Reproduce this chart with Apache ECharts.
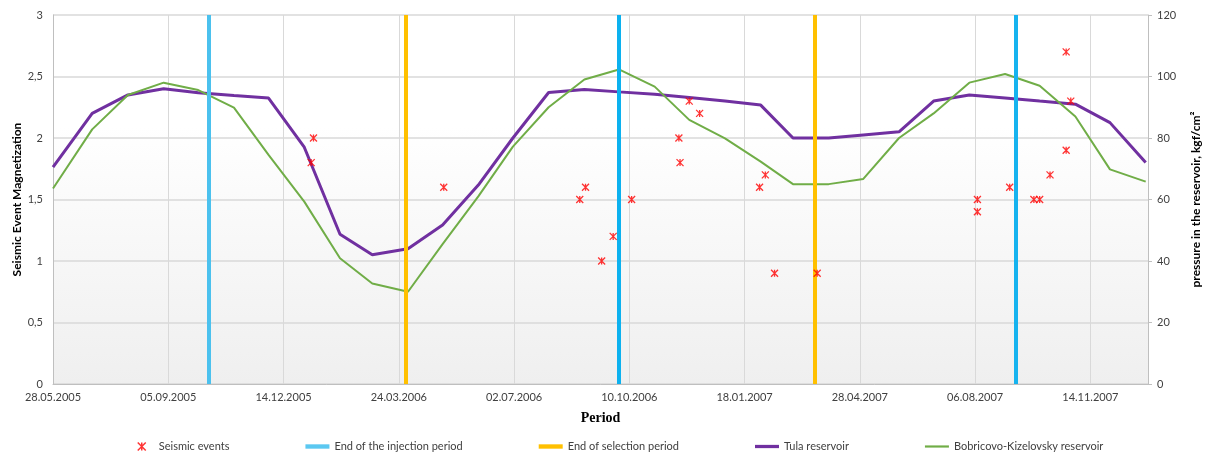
<!DOCTYPE html>
<html>
<head>
<meta charset="utf-8">
<script src="https://cdn.jsdelivr.net/npm/echarts@6/dist/echarts.min.js"></script>
<style>
  html, body { margin: 0; padding: 0; background: #fff; }
  #chart { width: 1210px; height: 456px; }
</style>
</head>
<body>
<div id="chart"></div>
<script>
// monthly pressure readings
const months = [
  '2005-05-28', '2005-07-01', '2005-08-01', '2005-09-01', '2005-10-01', '2005-11-01',
  '2005-12-01', '2006-01-01', '2006-02-01', '2006-03-01', '2006-04-01', '2006-05-01',
  '2006-06-01', '2006-07-01', '2006-08-01', '2006-09-01', '2006-10-01', '2006-11-01',
  '2006-12-01', '2007-01-01', '2007-02-01', '2007-03-01', '2007-04-01', '2007-05-01',
  '2007-06-01', '2007-07-01', '2007-08-01', '2007-09-01', '2007-10-01', '2007-11-01',
  '2007-12-01', '2008-01-01'
];
const tulaPressure = [
  70.5, 88, 94, 96, 94.7, 93.8, 93, 77, 48.7, 42, 44, 51.7,
  64.7, 80, 94.8, 95.8, 95, 94.2, 93.2, 92, 90.7, 80, 80, 81,
  82, 92, 94, 93, 92, 91, 85, 72
];
const bobrPressure = [
  63.6, 82.8, 94, 98, 95.6, 89.9, 74.5, 59.3, 40.9, 32.7, 30, 45.5,
  61, 77.2, 90, 99, 102.3, 96.7, 85.9, 79.9, 72.3, 65, 65, 66.7,
  80, 88, 98, 100.8, 97, 87, 69.8, 65.8
];

// seismic events (magnetization)
const eventDates = [
  '2006-01-09', '2006-01-07', '2006-05-02', '2006-08-28', '2006-09-02', '2006-09-16',
  '2006-09-26', '2006-10-12', '2006-11-22', '2006-11-23', '2006-12-01', '2006-12-10',
  '2007-01-31', '2007-02-05', '2007-02-13', '2007-03-22', '2007-08-08', '2007-08-08',
  '2007-09-05', '2007-09-26', '2007-10-01', '2007-10-10', '2007-10-24', '2007-10-24',
  '2007-10-28'
];
const eventValues = [
  2.0, 1.8, 1.6, 1.5, 1.6, 1.0,
  1.2, 1.5, 2.0, 1.8, 2.3, 2.2,
  1.6, 1.7, 0.9, 0.9, 1.5, 1.4,
  1.6, 1.5, 1.5, 1.7, 2.7, 1.9,
  2.3
];

const injectionEnd = ['2005-10-10', '2006-10-01', '2007-09-10'];
const injectionColors = ['#4bc1ee', '#0cb1ef', '#16b3ef'];
const selectionEnd = ['2006-03-30', '2007-03-20'];

const startDate = '2005-05-28';
const endDate = '2008-01-03';

// days since start date, used as x value
function day(s) {
  const p = s.split('-').map(Number);
  const q = startDate.split('-').map(Number);
  return Math.round((Date.UTC(p[0], p[1] - 1, p[2]) - Date.UTC(q[0], q[1] - 1, q[2])) / 86400000);
}
function dateLabel(v) {
  const q = startDate.split('-').map(Number);
  const d = new Date(Date.UTC(q[0], q[1] - 1, q[2]) + v * 86400000);
  const dd = String(d.getUTCDate()).padStart(2, '0');
  const mm = String(d.getUTCMonth() + 1).padStart(2, '0');
  return dd + '.' + mm + '.' + d.getUTCFullYear();
}

const font = 'Lato';
const starPath = 'path://M0,0L10,10M10,0L0,10M5,0L5,10';
const bar = h => 'path://M0,0H22V' + h + 'H0Z';
const chart = echarts.init(document.getElementById('chart'));

const vline = (name, color, dates, colors) => ({
  name: name,
  type: 'line',
  data: [],
  symbol: 'none',
  itemStyle: { color: color },
  lineStyle: { color: color, width: 4 },
  markLine: {
    silent: true,
    symbol: ['none', 'none'],
    label: { show: false },
    lineStyle: { color: color, width: 4, type: 'solid' },
    data: dates.map((d, i) => ({
      xAxis: day(d),
      lineStyle: { color: colors ? colors[i] : color }
    }))
  }
});

const option = {
  animation: false,
  textStyle: { fontFamily: font },
  grid: {
    left: 53, right: 62, top: 15, bottom: 72,
    outerBoundsMode: 'none',
    containLabel: false,
    show: true,
    borderWidth: 0,
    backgroundColor: new echarts.graphic.LinearGradient(0, 0, 0, 1, [
      { offset: 0, color: '#ffffff' },
      { offset: 0.3, color: '#ffffff' },
      { offset: 1, color: '#efefef' }
    ])
  },
  legend: {
    top: 436,
    left: 132,
    itemGap: 76,
    itemWidth: 24,
    itemHeight: 8,
    symbolKeepAspect: true,
    textStyle: { fontFamily: font, fontSize: 11, color: '#404040' },
    data: [
      { name: 'Seismic events', icon: starPath,
        itemStyle: { color: 'rgba(0,0,0,0)', borderColor: '#ff0000', borderWidth: 1.5 } },
      { name: 'End of the injection period', icon: bar(4), itemStyle: { color: '#5bc8f1' } },
      { name: 'End of selection period', icon: bar(4), itemStyle: { color: '#ffc000' } },
      { name: 'Tula reservoir', icon: bar(3), itemStyle: { color: '#7030a0' } },
      { name: 'Bobricovo-Kizelovsky reservoir', icon: bar(2), itemStyle: { color: '#70ad47' } }
    ]
  },
  xAxis: {
    type: 'value',
    min: 0,
    max: day(endDate),
    interval: 100,
    name: 'Period',
    nameLocation: 'middle',
    nameGap: 27,
    nameTextStyle: { fontFamily: 'Liberation Serif', fontWeight: 'bold', fontSize: 14, color: '#000' },
    axisLine: { lineStyle: { color: '#bfbfbf' } },
    axisTick: { show: false },
    axisLabel: {
      fontSize: 11, color: '#404040', margin: 8,
      showMaxLabel: false,
      formatter: dateLabel
    },
    splitLine: { show: true, lineStyle: { color: '#d9d9d9' } }
  },
  yAxis: [{
    type: 'value',
    min: 0, max: 3, interval: 0.5,
    name: 'Seismic Event Magnetization',
    nameLocation: 'middle',
    nameGap: 30,
    nameMoveOverlap: false,
    nameTextStyle: { fontWeight: 'bold', fontSize: 12, color: '#000' },
    axisLine: { show: true, lineStyle: { color: '#bfbfbf' } },
    axisTick: { show: false },
    axisLabel: {
      fontSize: 11, color: '#404040', margin: 10,
      formatter: v => String(v).replace('.', ',')
    },
    splitLine: { lineStyle: { color: '#d9d9d9', width: 1.5 } }
  }, {
    type: 'value',
    position: 'right',
    min: 0, max: 120, interval: 20,
    name: 'pressure in the reservoir, kgf/cm²',
    nameLocation: 'middle',
    nameGap: 42,
    nameRotate: 90,
    nameTextStyle: { fontWeight: 'bold', fontSize: 12, color: '#000' },
    axisLine: { show: true, lineStyle: { color: '#bfbfbf' } },
    axisTick: { show: true, length: 4, lineStyle: { color: '#bfbfbf' } },
    axisLabel: { fontSize: 11, color: '#404040', margin: 9 },
    splitLine: { show: false }
  }],
  series: [
    {
      name: 'Seismic events',
      type: 'scatter',
      yAxisIndex: 0,
      symbol: starPath,
      symbolSize: 7,
      itemStyle: { color: 'rgba(0,0,0,0)', borderColor: '#ff0000', borderWidth: 1.3 },
      data: eventDates.map((d, i) => [day(d), eventValues[i]]),
      z: 5
    },
    vline('End of the injection period', '#4bc1ee', injectionEnd, injectionColors),
    vline('End of selection period', '#ffc000', selectionEnd),
    {
      name: 'Tula reservoir',
      type: 'line',
      yAxisIndex: 1,
      symbol: 'none',
      itemStyle: { color: '#7030a0' },
      lineStyle: { color: '#7030a0', width: 3 },
      data: months.map((d, i) => [day(d), tulaPressure[i]])
    },
    {
      name: 'Bobricovo-Kizelovsky reservoir',
      type: 'line',
      yAxisIndex: 1,
      symbol: 'none',
      itemStyle: { color: '#70ad47' },
      lineStyle: { color: '#70ad47', width: 2 },
      data: months.map((d, i) => [day(d), bobrPressure[i]])
    }
  ]
};

chart.setOption(option);
</script>
</body>
</html>
